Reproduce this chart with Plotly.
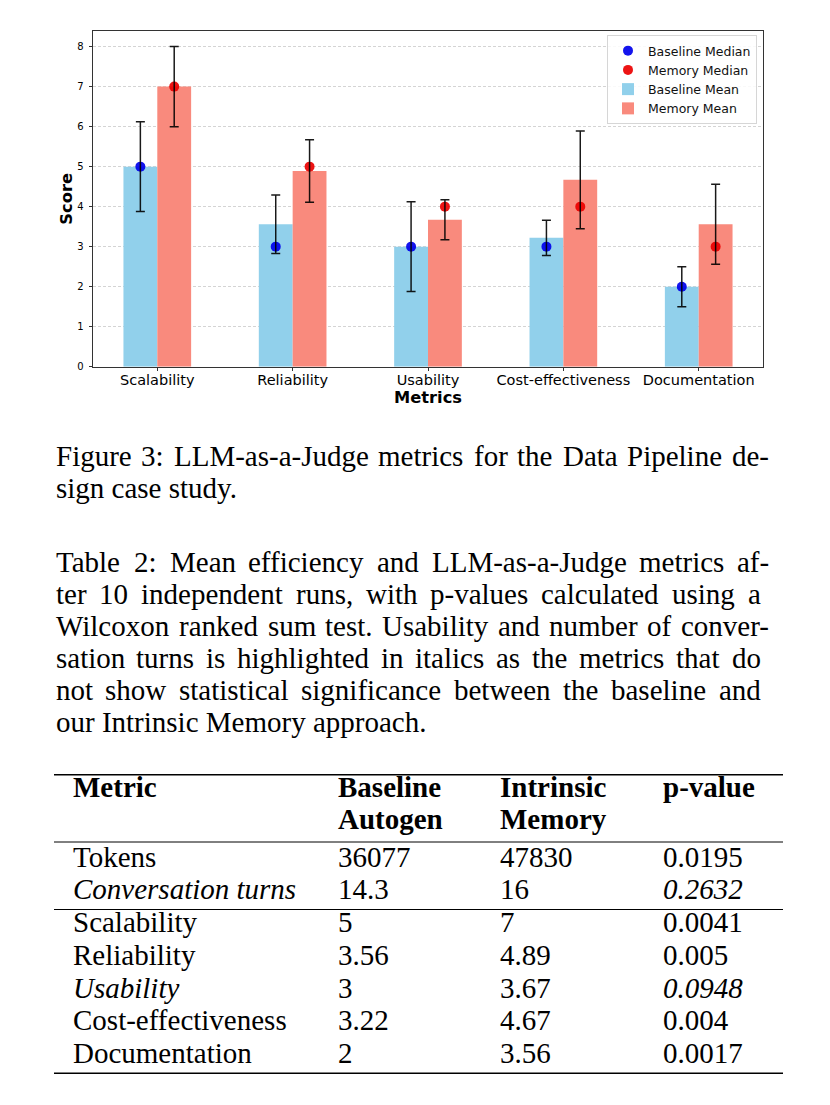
import plotly.graph_objects as go

# ---------------- data ----------------
categories = ["Scalability", "Reliability", "Usability", "Cost-effectiveness", "Documentation"]
baseline_mean = [5.0, 3.56, 3.0, 3.22, 2.0]
memory_mean = [7.0, 4.89, 3.67, 4.67, 3.56]
baseline_median = [5, 3, 3, 3, 2]
memory_median = [7, 5, 4, 4, 3]
baseline_err = [1.12, 0.73, 1.12, 0.44, 0.50]
memory_err = [1.00, 0.78, 0.50, 1.22, 1.00]
y_ticks = [0, 1, 2, 3, 4, 5, 6, 7, 8]

caption_fig = ["Figure 3: LLM-as-a-Judge metrics for the Data Pipeline de-",
               "sign case study."]
caption_tab = ["Table 2: Mean efficiency and LLM-as-a-Judge metrics af-",
               "ter 10 independent runs, with p-values calculated using a",
               "Wilcoxon ranked sum test. Usability and number of conver-",
               "sation turns is highlighted in italics as the metrics that do",
               "not show statistical significance between the baseline and",
               "our Intrinsic Memory approach."]

table_header1 = ["Metric", "Baseline", "Intrinsic", "p-value"]
table_header2 = ["", "Autogen", "Memory", ""]
table_metrics = ["Tokens", "Conversation turns", "Scalability", "Reliability",
                 "Usability", "Cost-effectiveness", "Documentation"]
table_baseline = ["36077", "14.3", "5", "3.56", "3", "3.22", "2"]
table_memory = ["47830", "16", "7", "4.89", "3.67", "4.67", "3.56"]
table_pvalues = ["0.0195", "0.2632", "0.0041", "0.005", "0.0948", "0.004", "0.0017"]
table_italic = [False, True, False, False, True, False, False]

# ---------------- layout helpers ----------------
# the page body adds an 8px margin; positions below are in window pixels
OFF = 8
W, H = 830 - OFF, 1105 - OFF
def px(x):
    return (x - OFF) / W
def py(y):
    return 1 - (y - OFF) / H

SERIF = "Liberation Serif"
SANS = "DejaVu Sans"
BAR_W = 0.25

TIMES = {' ': 250, '!': 333, ',': 250, '-': 333, '.': 250, ':': 278, ';': 278,
         '0': 500, '1': 500, '2': 500, '3': 500, '4': 500, '5': 500, '6': 500,
         '7': 500, '8': 500, '9': 500,
         'A': 722, 'B': 667, 'C': 667, 'D': 722, 'E': 611, 'F': 556, 'G': 722,
         'H': 722, 'I': 333, 'J': 389, 'K': 722, 'L': 611, 'M': 889, 'N': 722,
         'O': 722, 'P': 556, 'Q': 722, 'R': 667, 'S': 556, 'T': 611, 'U': 722,
         'V': 722, 'W': 944, 'X': 722, 'Y': 722, 'Z': 611,
         'a': 444, 'b': 500, 'c': 444, 'd': 500, 'e': 444, 'f': 333, 'g': 500,
         'h': 500, 'i': 278, 'j': 278, 'k': 500, 'l': 278, 'm': 778, 'n': 500,
         'o': 500, 'p': 500, 'q': 500, 'r': 333, 's': 389, 't': 278, 'u': 500,
         'v': 500, 'w': 722, 'x': 500, 'y': 500, 'z': 444}

def tw(s, size):
    return sum(TIMES.get(c, 500) for c in s) * size / 1000.0

fig = go.Figure()
idx = list(range(len(categories)))
xb = [i - BAR_W / 2 for i in idx]
xm = [i + BAR_W / 2 for i in idx]

fig.add_trace(go.Scatter(x=xb, y=baseline_median, mode="markers", name="Baseline Median",
                         marker=dict(color="rgba(0,0,235,0.92)", size=10, line=dict(width=0))))
fig.add_trace(go.Scatter(x=xm, y=memory_median, mode="markers", name="Memory Median",
                         marker=dict(color="rgba(235,0,0,0.92)", size=10, line=dict(width=0))))
fig.add_trace(go.Bar(x=idx, y=baseline_mean, width=BAR_W, offset=-BAR_W, name="Baseline Mean",
                     marker=dict(color="rgb(145,208,235)", line=dict(width=0))))
fig.add_trace(go.Bar(x=idx, y=memory_mean, width=BAR_W, offset=0, name="Memory Mean",
                     marker=dict(color="rgb(249,138,125)", line=dict(width=0))))
fig.add_trace(go.Scatter(x=xb, y=baseline_mean, mode="markers", showlegend=False, hoverinfo="skip",
                         marker=dict(size=1, opacity=0),
                         error_y=dict(type="data", array=baseline_err, color="rgba(0,0,0,0.9)",
                                      thickness=1.5, width=4.5)))
fig.add_trace(go.Scatter(x=xm, y=memory_mean, mode="markers", showlegend=False, hoverinfo="skip",
                         marker=dict(size=1, opacity=0),
                         error_y=dict(type="data", array=memory_err, color="rgba(0,0,0,0.9)",
                                      thickness=1.5, width=4.5)))

fig.update_layout(
    template="none",
    width=W, height=H,
    margin=dict(l=0, r=0, t=0, b=0),
    paper_bgcolor="white", plot_bgcolor="white",
    barmode="overlay",
    showlegend=True,
    legend=dict(x=px(757), y=py(35), xanchor="right", yanchor="top",
                bgcolor="rgba(255,255,255,0.85)", bordercolor="#d6d6d6", borderwidth=1,
                font=dict(family=SANS, size=12.5, color="#111"), traceorder="normal",
                itemwidth=30),
    xaxis=dict(domain=[px(93), px(763)], range=[-0.475, 4.475],
               tickmode="array", tickvals=idx, ticktext=categories,
               ticks="outside", ticklen=3.5, tickwidth=1, tickcolor="#333",
               tickfont=dict(family=SANS, size=14.5, color="black"),
               ticklabelstandoff=-4,
               showline=True, mirror=True, linecolor="#333", linewidth=1,
               showgrid=False, zeroline=False, automargin=False,
               title=dict(text="<b>Metrics</b>", font=dict(family=SANS, size=16.3, color="black"),
                          standoff=2)),
    yaxis=dict(domain=[py(366.7), py(31)], range=[0, 8.39],
               tickmode="array", tickvals=y_ticks,
               ticks="outside", ticklen=3.5, tickwidth=1, tickcolor="#333",
               tickfont=dict(family=SANS, size=10, color="black"),
               ticklabelstandoff=3,
               showline=True, mirror=True, linecolor="#333", linewidth=1,
               showgrid=True, gridcolor="#d4d4d4", gridwidth=0.8, griddash="3px,2px",
               zeroline=False, automargin=False,
               title=dict(text="<b>Score</b>", font=dict(family=SANS, size=16.3, color="black"),
                          standoff=0)),
)

DESC = 0.216

def add_text(x, baseline, text, size=29, bold=False, italic=False):
    t = text
    if italic:
        t = "<i>" + t + "</i>"
    if bold:
        t = "<b>" + t + "</b>"
    fig.add_annotation(x=px(x), y=py(baseline + DESC * size), xref="paper", yref="paper",
                       xanchor="left", yanchor="bottom", text=t, showarrow=False,
                       font=dict(family=SERIF, size=size, color="black"),
                       borderpad=0, borderwidth=0)

def justify(line, x0, x1, baseline, size=29):
    words = line.split(" ")
    widths = [tw(w, size) for w in words]
    gap = (x1 - x0 - sum(widths)) / max(len(words) - 1, 1)
    x = x0
    for w, wd in zip(words, widths):
        add_text(x, baseline, w, size)
        x += wd + gap

def paragraph(lines, baselines, x0=55.5):
    for k, (line, b) in enumerate(zip(lines, baselines)):
        if k == len(lines) - 1:
            add_text(x0, b, line)
        else:
            right = 769.5 if line.endswith("-") else 760.5
            justify(line, x0, right, b)

paragraph(caption_fig, [466, 498])
paragraph(caption_tab, [572, 604, 636, 668, 700, 732])

# table
col_x = [73, 338, 500, 663]
for cx, t in zip(col_x, table_header1):
    if t:
        add_text(cx, 797, t, bold=True)
for cx, t in zip(col_x, table_header2):
    if t:
        add_text(cx, 829, t, bold=True)
row_base = [866.5, 898.5, 932, 965, 997.5, 1030, 1063]
for i, b in enumerate(row_base):
    it = table_italic[i]
    add_text(col_x[0], b, table_metrics[i], italic=it)
    add_text(col_x[1], b, table_baseline[i])
    add_text(col_x[2], b, table_memory[i])
    add_text(col_x[3], b, table_pvalues[i], italic=it)

for yy, lw in [(774.7, 1.4), (842, 1.0), (909.5, 1.0), (1073.3, 1.4)]:
    fig.add_shape(type="line", xref="paper", yref="paper", x0=px(54), x1=px(783),
                  y0=py(yy), y1=py(yy), line=dict(color="black", width=lw))

fig.write_html("out.html")
